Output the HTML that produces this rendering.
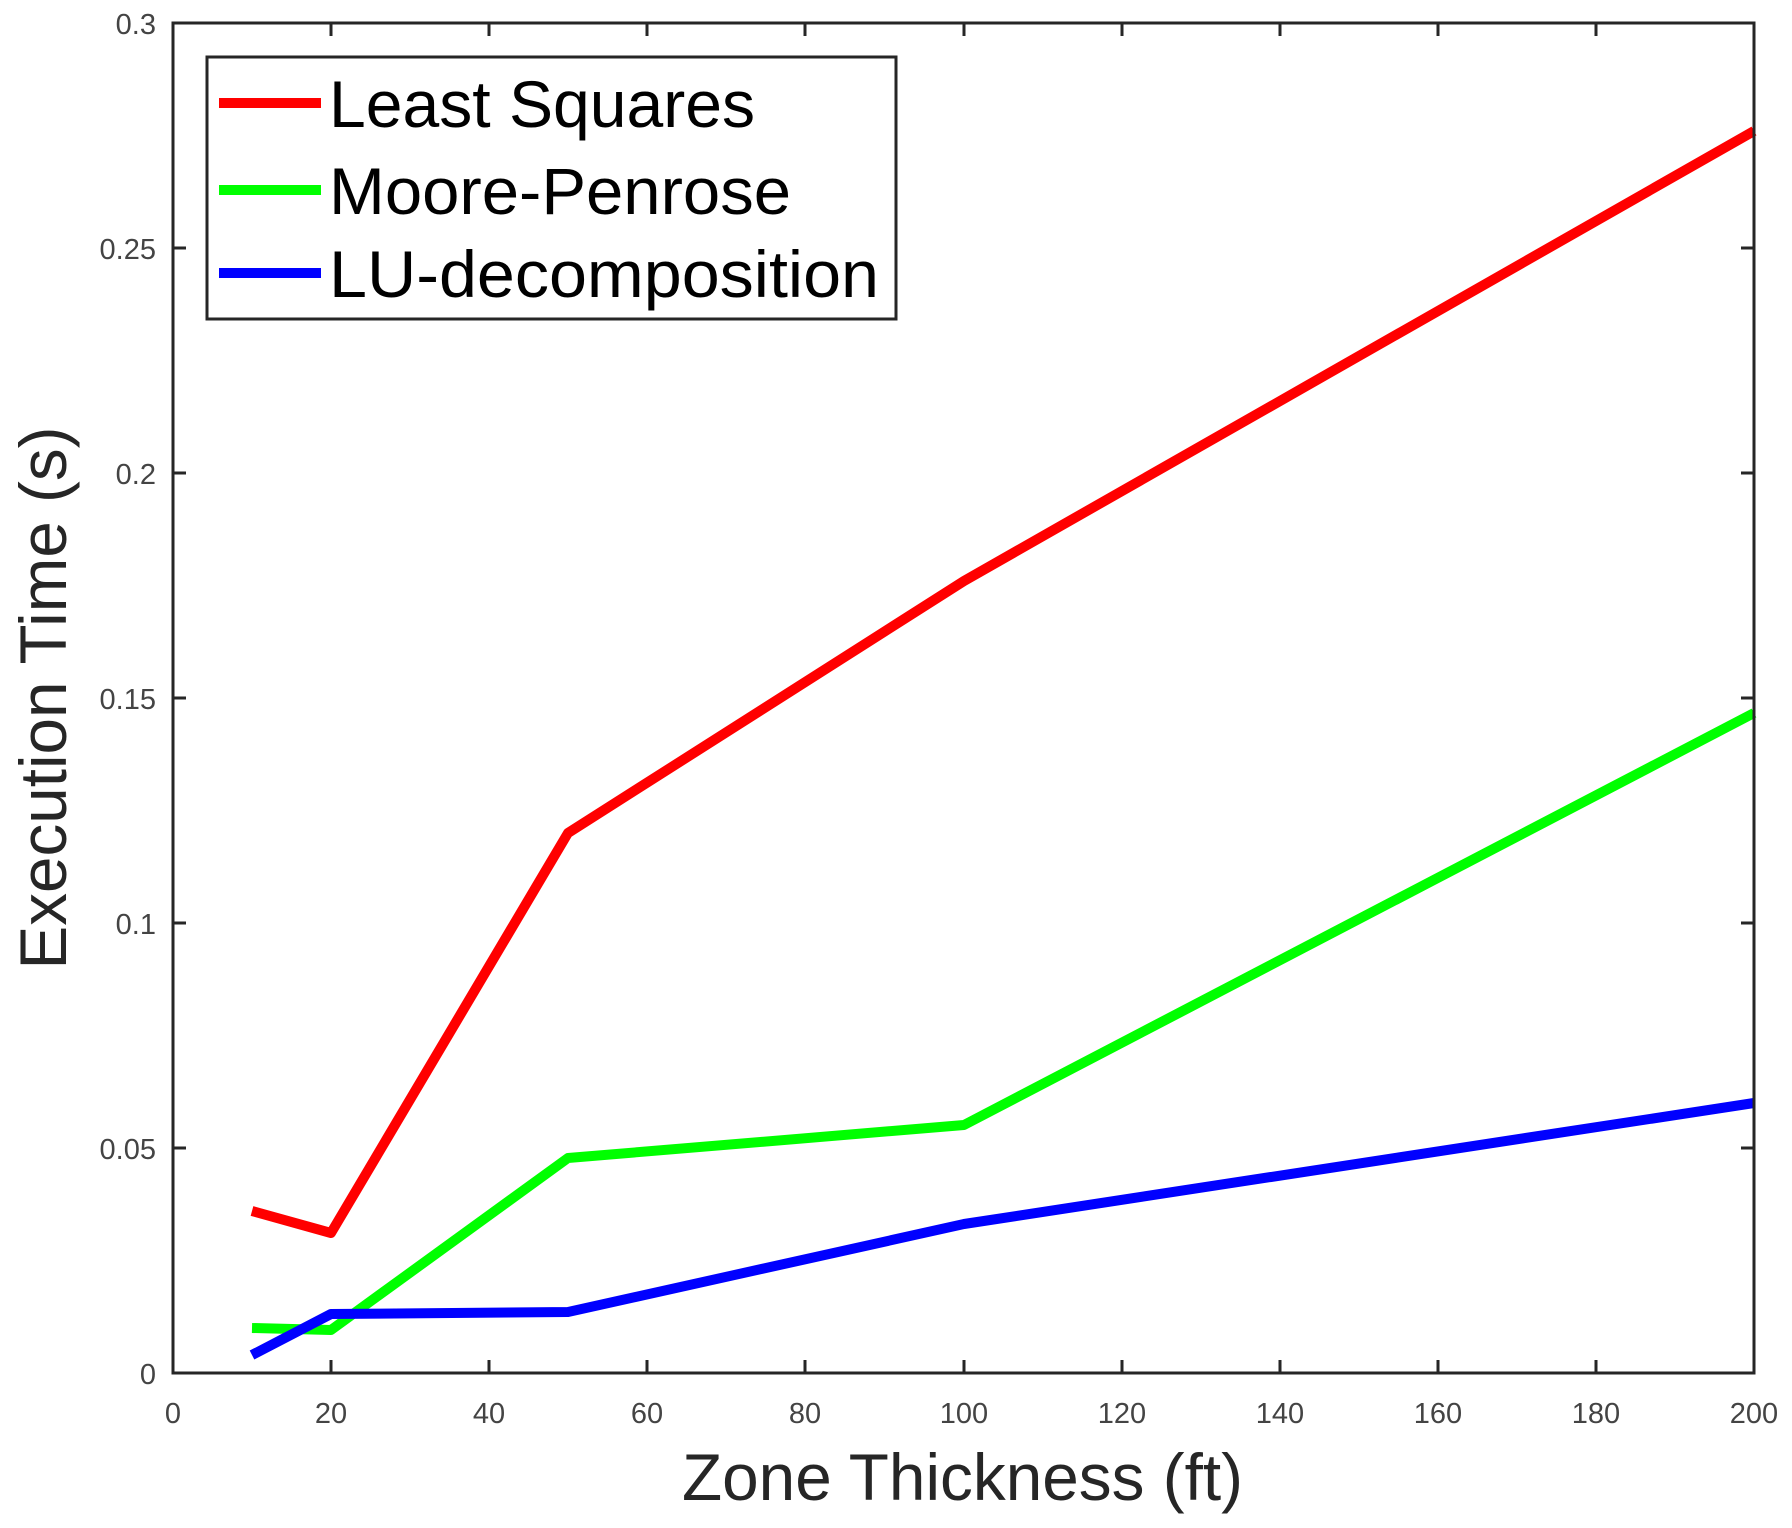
<!DOCTYPE html>
<html><head><meta charset="utf-8"><style>html,body{margin:0;padding:0;background:#fff}svg{display:block}</style></head>
<body>
<svg width="1792" height="1528" viewBox="0 0 1792 1528" xmlns="http://www.w3.org/2000/svg" font-family="Liberation Sans, sans-serif">
<rect width="1792" height="1528" fill="#fff"/>
<g stroke-linejoin="round" fill="none" stroke-width="10">
<polyline stroke="#ff0000" points="252,1211 331,1233 568,833 964,581 1754,131"/>
<polyline stroke="#00ff00" points="252,1328 331,1330 568,1158 964,1125 1754,713"/>
<polyline stroke="#0000ff" points="252,1355 331,1314 568,1312 964,1224 1754,1103"/>
</g>
<rect x="173" y="23" width="1581" height="1350" fill="none" stroke="#262626" stroke-width="3"/>
<g stroke="#262626" stroke-width="3">
<line x1="331" y1="1373" x2="331" y2="1360"/><line x1="489" y1="1373" x2="489" y2="1360"/><line x1="647" y1="1373" x2="647" y2="1360"/><line x1="805" y1="1373" x2="805" y2="1360"/><line x1="964" y1="1373" x2="964" y2="1360"/><line x1="1122" y1="1373" x2="1122" y2="1360"/><line x1="1280" y1="1373" x2="1280" y2="1360"/><line x1="1438" y1="1373" x2="1438" y2="1360"/><line x1="1596" y1="1373" x2="1596" y2="1360"/>
<line x1="331" y1="23" x2="331" y2="36"/><line x1="489" y1="23" x2="489" y2="36"/><line x1="647" y1="23" x2="647" y2="36"/><line x1="805" y1="23" x2="805" y2="36"/><line x1="964" y1="23" x2="964" y2="36"/><line x1="1122" y1="23" x2="1122" y2="36"/><line x1="1280" y1="23" x2="1280" y2="36"/><line x1="1438" y1="23" x2="1438" y2="36"/><line x1="1596" y1="23" x2="1596" y2="36"/>
<line x1="173" y1="1148" x2="186" y2="1148"/><line x1="173" y1="923" x2="186" y2="923"/><line x1="173" y1="698" x2="186" y2="698"/><line x1="173" y1="473" x2="186" y2="473"/><line x1="173" y1="248" x2="186" y2="248"/>
<line x1="1754" y1="1148" x2="1741" y2="1148"/><line x1="1754" y1="923" x2="1741" y2="923"/><line x1="1754" y1="698" x2="1741" y2="698"/><line x1="1754" y1="473" x2="1741" y2="473"/><line x1="1754" y1="248" x2="1741" y2="248"/>
</g>
<g fill="#444" font-size="29" text-anchor="middle">
<text x="173" y="1423">0</text><text x="331" y="1423">20</text><text x="489" y="1423">40</text><text x="647" y="1423">60</text><text x="805" y="1423">80</text><text x="964" y="1423">100</text><text x="1122" y="1423">120</text><text x="1280" y="1423">140</text><text x="1438" y="1423">160</text><text x="1596" y="1423">180</text><text x="1754" y="1423">200</text>
</g>
<g fill="#444" font-size="29" text-anchor="end">
<text x="156" y="1384">0</text><text x="156" y="1159">0.05</text><text x="156" y="934">0.1</text><text x="156" y="709">0.15</text><text x="156" y="484">0.2</text><text x="156" y="259">0.25</text><text x="156" y="34">0.3</text>
</g>
<text x="682" y="1500" textLength="561" lengthAdjust="spacingAndGlyphs" font-size="66" fill="#262626">Zone Thickness (ft)</text>
<text transform="translate(66,698) rotate(-90)" text-anchor="middle" textLength="543" lengthAdjust="spacingAndGlyphs" font-size="66" fill="#262626">Execution Time (s)</text>
<rect x="207" y="57" width="689" height="262" fill="#fff" stroke="#262626" stroke-width="3"/>
<g stroke-width="10">
<line x1="219" y1="103" x2="321" y2="103" stroke="#ff0000"/>
<line x1="219" y1="190" x2="321" y2="190" stroke="#00ff00"/>
<line x1="219" y1="273" x2="321" y2="273" stroke="#0000ff"/>
</g>
<g font-size="66" fill="#000" lengthAdjust="spacingAndGlyphs">
<text x="329" y="127" textLength="426" lengthAdjust="spacingAndGlyphs">Least Squares</text>
<text x="329" y="214" textLength="462" lengthAdjust="spacingAndGlyphs">Moore-Penrose</text>
<text x="329" y="297" textLength="550" lengthAdjust="spacingAndGlyphs">LU-decomposition</text>
</g>
</svg>
</body></html>
